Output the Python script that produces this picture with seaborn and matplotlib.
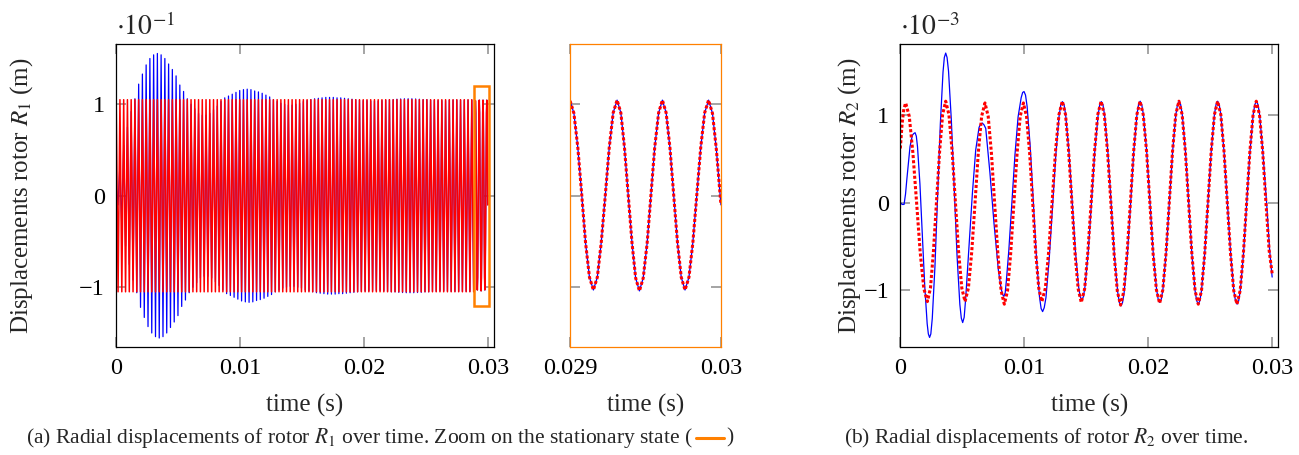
import numpy as np
import pandas as pd
import matplotlib
matplotlib.use("Agg")
import matplotlib.pyplot as plt
import seaborn as sns
from matplotlib.patches import Rectangle
from matplotlib.lines import Line2D
from matplotlib.offsetbox import TextArea, HPacker, DrawingArea, AnchoredOffsetbox

# ------------------------------------------------------------------
# Rotor R1 (units of 1e-1 m): one oscillation per 0.302 ms, amplitude of
# every cycle, blue = reference, red = approximation
# ------------------------------------------------------------------
r1_period_ms = 0.302
r1_first_peak_ms = 0.016
r1_blue_amp = [
    0.10, 0.35, 0.55, 0.75, 0.92, 1.06, 1.22, 1.33, 1.43, 1.50, 1.54, 1.555,
    1.54, 1.50, 1.44, 1.38, 1.31, 1.21, 1.14, 1.06, 1.00, 0.95, 0.90, 0.88,
    0.88, 0.90, 0.94, 0.98, 1.03, 1.07, 1.09, 1.11, 1.13, 1.15, 1.16, 1.165,
    1.16, 1.145, 1.135, 1.12, 1.10, 1.08, 1.05, 1.03, 1.01, 1.00, 0.99, 0.99,
    1.00, 1.01, 1.03, 1.04, 1.05, 1.06, 1.065, 1.07, 1.075, 1.075, 1.075, 1.07,
    1.07, 1.065, 1.06, 1.055, 1.05, 1.045, 1.04, 1.04, 1.035, 1.035, 1.035, 1.04,
    1.045, 1.05, 1.05, 1.055, 1.058, 1.06, 1.06, 1.06, 1.058, 1.055, 1.05, 1.05,
    1.045, 1.045, 1.04, 1.04, 1.04, 1.045, 1.045, 1.045, 1.045, 1.045, 1.045, 1.045,
]
r1_red_amp = [
    1.05, 1.05, 1.05, 1.05, 1.05, 1.05, 1.05, 1.05, 1.05, 1.05, 1.05, 1.05,
    1.05, 1.05, 1.05, 1.05, 1.05, 1.05, 1.05, 1.05, 1.05, 1.05, 1.05, 1.05,
    1.05, 1.05, 1.05, 1.05, 1.05, 1.05, 1.05, 1.05, 1.05, 1.05, 1.05, 1.05,
    1.05, 1.05, 1.05, 1.05, 1.05, 1.05, 1.05, 1.05, 1.05, 1.05, 1.05, 1.05,
    1.05, 1.05, 1.05, 1.05, 1.05, 1.05, 1.05, 1.05, 1.05, 1.05, 1.05, 1.05,
    1.05, 1.05, 1.05, 1.05, 1.05, 1.05, 1.05, 1.05, 1.05, 1.05, 1.05, 1.05,
    1.05, 1.05, 1.05, 1.05, 1.05, 1.05, 1.05, 1.05, 1.05, 1.05, 1.05, 1.05,
    1.05, 1.05, 1.05, 1.05, 1.05, 1.05, 1.05, 1.05, 1.05, 1.05, 1.05, 1.05,
]

# stationary state 29-30 ms (both curves coincide), (ms, 1e-1 m)
win_samples = [
    (29.000, 1.04), (29.026, 0.901), (29.052, 0.523), (29.078, 0.005), (29.103, -0.513),
    (29.129, -0.891), (29.155, -1.03), (29.181, -0.891), (29.207, -0.511), (29.234, 0.008),
    (29.260, 0.526), (29.286, 0.906), (29.312, 1.045), (29.337, 0.905), (29.361, 0.524),
    (29.386, 0.003), (29.411, -0.519), (29.435, -0.90), (29.460, -1.04), (29.485, -0.90),
    (29.511, -0.519), (29.536, 0.003), (29.561, 0.524), (29.587, 0.905), (29.612, 1.045),
    (29.637, 0.906), (29.662, 0.526), (29.687, 0.008), (29.712, -0.511), (29.737, -0.891),
    (29.762, -1.03), (29.788, -0.891), (29.814, -0.511), (29.840, 0.008), (29.866, 0.526),
    (29.892, 0.906), (29.918, 1.045), (29.944, 0.90), (29.970, 0.50), (30.000, -0.10),
]

# ------------------------------------------------------------------
# Rotor R2 (ms, units of 1e-3 m)
# ------------------------------------------------------------------
r2_blue = [
    (0.00, 0.00), (0.15, -0.02), (0.30, -0.02), (0.42, 0.10), (0.52, 0.26), (0.65, 0.45),
    (0.78, 0.64), (0.97, 0.77), (1.08, 0.79), (1.19, 0.80), (1.29, 0.76),
    (1.385, 0.64), (1.58, 0.215), (1.775, -0.37), (1.97, -0.955), (2.165, -1.383), (2.26, -1.50),
    (2.36, -1.54), (2.46, -1.50),
    (2.577, -1.322), (2.793, -0.728), (3.01, 0.085), (3.227, 0.898), (3.443, 1.492), (3.55, 1.66),
    (3.66, 1.71), (3.77, 1.66),
    (3.888, 1.504), (4.117, 0.94), (4.345, 0.17), (4.573, -0.60), (4.802, -1.164), (4.92, -1.32),
    (5.03, -1.37), (5.15, -1.31),
    (5.27, -1.10), (5.54, -0.50), (5.81, 0.10), (6.08, 0.60), (6.35, 0.86), (6.48, 0.90), (6.61, 0.91),
    (6.75, 0.89), (6.89, 0.85), (7.23, 0.34), (7.56, -0.24), (7.91, -0.77), (8.13, -0.98), (8.25, -1.05),
    (8.36, -1.07), (8.46, -1.03),
    (8.55, -0.90), (8.75, -0.55), (8.98, -0.05), (9.25, 0.55), (9.50, 0.98), (9.75, 1.20), (9.87, 1.26),
    (9.98, 1.27), (10.10, 1.23),
    (10.23, 1.10), (10.48, 0.64), (10.73, 0.01), (10.98, -0.62), (11.23, -1.08), (11.36, -1.21),
    (11.48, -1.245), (11.61, -1.20),
    (11.75, -1.084), (12.01, -0.645), (12.28, -0.045), (12.55, 0.555), (12.81, 0.994), (12.95, 1.12),
    (13.08, 1.155), (13.21, 1.12),
    (13.34, 1.003), (13.60, 0.589), (13.86, 0.02), (14.12, -0.544), (14.38, -0.958), (14.51, -1.075),
    (14.64, -1.11), (14.77, -1.075),
    (14.90, -0.958), (15.17, -0.544), (15.43, 0.02), (15.69, 0.589), (15.96, 1.003), (16.09, 1.12),
    (16.22, 1.155), (16.35, 1.12),
    (16.48, 0.999), (16.75, 0.571), (17.01, -0.01), (17.27, -0.596), (17.54, -1.024), (17.67, -1.14),
    (17.80, -1.18), (17.93, -1.14),
    (18.06, -1.023), (18.32, -0.595), (18.58, -0.01), (18.83, 0.575), (19.09, 1.003), (19.22, 1.12),
    (19.35, 1.16), (19.48, 1.12),
    (19.61, 1.006), (19.88, 0.585), (20.14, 0.01), (20.40, -0.565), (20.67, -0.986), (20.80, -1.10),
    (20.93, -1.14), (21.06, -1.10),
    (21.19, -0.986), (21.45, -0.565), (21.71, 0.01), (21.97, 0.585), (22.23, 1.006), (22.36, 1.12),
    (22.49, 1.16), (22.62, 1.12),
    (22.75, 1.005), (23.01, 0.58), (23.27, 0.0), (23.52, -0.58), (23.78, -1.005), (23.91, -1.12),
    (24.04, -1.16), (24.17, -1.12),
    (24.30, -1.005), (24.56, -0.58), (24.82, 0.0), (25.08, 0.58), (25.34, 1.005), (25.47, 1.12),
    (25.60, 1.16), (25.73, 1.12),
    (25.86, 1.005), (26.12, 0.58), (26.39, 0.0), (26.65, -0.58), (26.91, -1.005), (27.04, -1.12),
    (27.17, -1.16), (27.30, -1.12),
    (27.43, -1.005), (27.69, -0.58), (27.95, 0.0), (28.21, 0.58), (28.47, 1.005), (28.60, 1.12),
    (28.73, 1.16), (28.86, 1.12),
    (28.99, 1.005), (29.25, 0.58), (29.55, 0.0), (29.80, -0.55), (30.00, -0.85),
]
r2_red = [
    (0.00, 0.62), (0.14, 0.90), (0.28, 1.07), (0.43, 1.14),
    (0.72, 0.988), (1.01, 0.573), (1.31, 0.005), (1.60, -0.563), (1.89, -0.978), (2.18, -1.13),
    (2.43, -0.977), (2.67, -0.558), (2.92, 0.015), (3.17, 0.588), (3.41, 1.007), (3.66, 1.16),
    (3.92, 1.007), (4.18, 0.588), (4.44, 0.015), (4.70, -0.558), (4.96, -0.977), (5.22, -1.13),
    (5.49, -0.978), (5.76, -0.563), (6.03, 0.005), (6.29, 0.573), (6.56, 0.988), (6.83, 1.14),
    (7.09, 0.986), (7.35, 0.565), (7.61, -0.01), (7.87, -0.585), (8.13, -1.006), (8.39, -1.16),
    (8.65, -1.006), (8.90, -0.585), (9.16, -0.01), (9.42, 0.565), (9.67, 0.986), (9.93, 1.14),
    (10.18, 0.988), (10.43, 0.573), (10.68, 0.005), (10.92, -0.563), (11.17, -0.978), (11.42, -1.13),
    (11.70, -0.977), (11.97, -0.558), (12.25, 0.015), (12.52, 0.588), (12.80, 1.007), (13.07, 1.16),
    (13.33, 1.006), (13.58, 0.585), (13.84, 0.01), (14.09, -0.565), (14.35, -0.986), (14.60, -1.14),
    (14.87, -0.986), (15.13, -0.565), (15.40, 0.01), (15.67, 0.585), (15.93, 1.006), (16.20, 1.16),
    (16.46, 1.004), (16.72, 0.578), (16.99, -0.005), (17.25, -0.588), (17.51, -1.014), (17.77, -1.17),
    (18.03, -1.014), (18.29, -0.588), (18.56, -0.005), (18.82, 0.578), (19.08, 1.004), (19.34, 1.16),
    (19.60, 1.005), (19.87, 0.583), (20.13, 0.005), (20.39, -0.573), (20.66, -0.995), (20.92, -1.15),
    (21.18, -0.995), (21.44, -0.573), (21.70, 0.005), (21.96, 0.583), (22.22, 1.005), (22.48, 1.16),
    (22.74, 1.005), (23.00, 0.58), (23.26, 0.0), (23.52, -0.58), (23.78, -1.005), (24.04, -1.16),
    (24.30, -1.005), (24.56, -0.58), (24.82, 0.0), (25.08, 0.58), (25.34, 1.005), (25.60, 1.16),
    (25.86, 1.005), (26.12, 0.58), (26.38, 0.0), (26.64, -0.58), (26.90, -1.005), (27.16, -1.16),
    (27.42, -1.005), (27.68, -0.58), (27.94, 0.0), (28.20, 0.58), (28.46, 1.005), (28.72, 1.16),
    (28.98, 1.005), (29.24, 0.58), (29.50, 0.0), (29.76, -0.55), (30.00, -0.81),
]

time_ticks = [0, 0.01, 0.02, 0.03]
time_labels = ["0", "0.01", "0.02", "0.03"]
zoom_ticks = [0.029, 0.03]
zoom_labels = ["0.029", "0.03"]
y_ticks = [-1, 0, 1]
y_labels = ["\u22121", "0", "1"]

BLUE = "#0000ff"
RED = "#ff0000"
ORANGE = "#ff8000"
TICK_GREY = "#8c8c8c"


def r1_frame(amp):
    # peak / trough of each cycle, then the finely sampled stationary window
    amp = np.asarray(amp)
    t_peak = r1_first_peak_ms + r1_period_ms * np.arange(len(amp))
    t = np.column_stack([t_peak, t_peak + r1_period_ms / 2]).ravel()
    u = np.column_stack([amp, -amp]).ravel()
    win = np.asarray(win_samples)
    t = np.concatenate([t, win[:, 0]]) / 1000.0
    u = np.concatenate([u, win[:, 1]])
    return pd.DataFrame({"t": t, "u": u})


def pairs_frame(pairs):
    df = pd.DataFrame(pairs, columns=["t_ms", "u"])
    df["t"] = df["t_ms"] / 1000.0
    return df


r1_blue_df = r1_frame(r1_blue_amp)
r1_red_df = r1_frame(r1_red_amp)
r2_blue_df = pairs_frame(r2_blue)
r2_red_df = pairs_frame(r2_red)

sns.set_theme(style="ticks")
plt.rcParams["font.family"] = ["Liberation Serif", "DejaVu Serif"]
plt.rcParams["mathtext.fontset"] = "stix"

fig = plt.figure(figsize=(12.99, 4.55), dpi=100)
ax_a = fig.add_axes([0.0893, 0.238, 0.2910, 0.6646])
ax_z = fig.add_axes([0.4388, 0.238, 0.1162, 0.6646])
ax_b = fig.add_axes([0.6931, 0.238, 0.2910, 0.6646])

TICK_FS = 17.5
LABEL_FS = 18


def draw_pair(ax, blue_df, red_df, dense=False):
    sns.lineplot(data=blue_df, x="t", y="u", ax=ax, color=BLUE, linewidth=0.9,
                 estimator=None, sort=False, legend=False)
    if dense:
        # at this scale the dotted red trace merges into solid stripes
        sns.lineplot(data=red_df, x="t", y="u", ax=ax, color=RED, linewidth=1.1,
                     estimator=None, sort=False, legend=False)
    else:
        sns.lineplot(data=red_df, x="t", y="u", ax=ax, color=RED, linewidth=2.2,
                     linestyle=(0, (1.0, 0.7)), dash_capstyle="butt",
                     estimator=None, sort=False, legend=False)


def style_axes(ax, spine_color="black"):
    for s in ax.spines.values():
        s.set_visible(True)
        s.set_color(spine_color)
        s.set_linewidth(0.9)
    ax.tick_params(which="both", direction="in", length=7, width=1.1, color=TICK_GREY,
                   top=True, right=True, labelsize=TICK_FS, pad=8, labelcolor="black")
    ax.set_yticks(y_ticks)
    ax.set_yticklabels(y_labels)
    ax.set_xlabel("time (s)", fontsize=LABEL_FS)
    ax.xaxis.set_label_coords(0.5, -0.155)


# ---- panel (a) ----
draw_pair(ax_a, r1_blue_df, r1_red_df, dense=True)
style_axes(ax_a)
ax_a.set_xlim(0, 0.0305)
ax_a.set_ylim(-1.65, 1.655)
ax_a.set_xticks(time_ticks)
ax_a.set_xticklabels(time_labels)
ax_a.set_ylabel("Displacements rotor $R_1$ (m)", fontsize=LABEL_FS)
ax_a.yaxis.set_label_coords(-0.215, 0.5)
ax_a.text(0.0, 1.03, r"$\cdot 10^{-1}$", transform=ax_a.transAxes, fontsize=20,
          ha="left", va="baseline")
ax_a.add_patch(Rectangle((zoom_ticks[0] - 0.00011, -1.2), 0.00118, 2.4, fill=False,
                         edgecolor=ORANGE, linewidth=1.8, zorder=5))

# ---- zoom panel ----
draw_pair(ax_z, r1_blue_df, r1_red_df)
style_axes(ax_z, spine_color=ORANGE)
ax_z.set_xlim(zoom_ticks[0], zoom_ticks[1])
ax_z.set_ylim(-1.65, 1.655)
ax_z.set_xticks(zoom_ticks)
ax_z.set_xticklabels(zoom_labels)
ax_z.tick_params(axis="y", labelleft=False)
ax_z.set_ylabel("")

# ---- panel (b) ----
draw_pair(ax_b, r2_blue_df, r2_red_df)
style_axes(ax_b)
ax_b.set_xlim(0, 0.0305)
ax_b.set_ylim(-1.646, 1.81)
ax_b.set_xticks(time_ticks)
ax_b.set_xticklabels(time_labels)
ax_b.set_ylabel("Displacements rotor $R_2$ (m)", fontsize=LABEL_FS)
ax_b.yaxis.set_label_coords(-0.10, 0.5)
ax_b.text(0.0, 1.03, r"$\cdot 10^{-3}$", transform=ax_b.transAxes, fontsize=20,
          ha="left", va="baseline")

# ---- captions ----
CAP_FS = 15.5
cap_a = [
    TextArea("(a) Radial displacements of rotor $R_1$ over time. Zoom on the stationary state (",
             textprops=dict(fontsize=CAP_FS)),
]
dash = DrawingArea(22, 8, 0, 0)
dash.add_artist(Line2D([1, 21], [4, 4], color=ORANGE, linewidth=2.2))
cap_a += [dash, TextArea(")", textprops=dict(fontsize=CAP_FS))]
box_a = HPacker(children=cap_a, align="center", pad=0, sep=1)
fig.add_artist(AnchoredOffsetbox(loc="center", child=box_a, frameon=False, pad=0, borderpad=0,
                                 bbox_to_anchor=(380 / 1299, 1 - 438 / 455),
                                 bbox_transform=fig.transFigure))
fig.text(1046 / 1299, 1 - 438 / 455, "(b) Radial displacements of rotor $R_2$ over time.",
         fontsize=CAP_FS, ha="center", va="center")

fig.savefig("out.png", dpi=100)
